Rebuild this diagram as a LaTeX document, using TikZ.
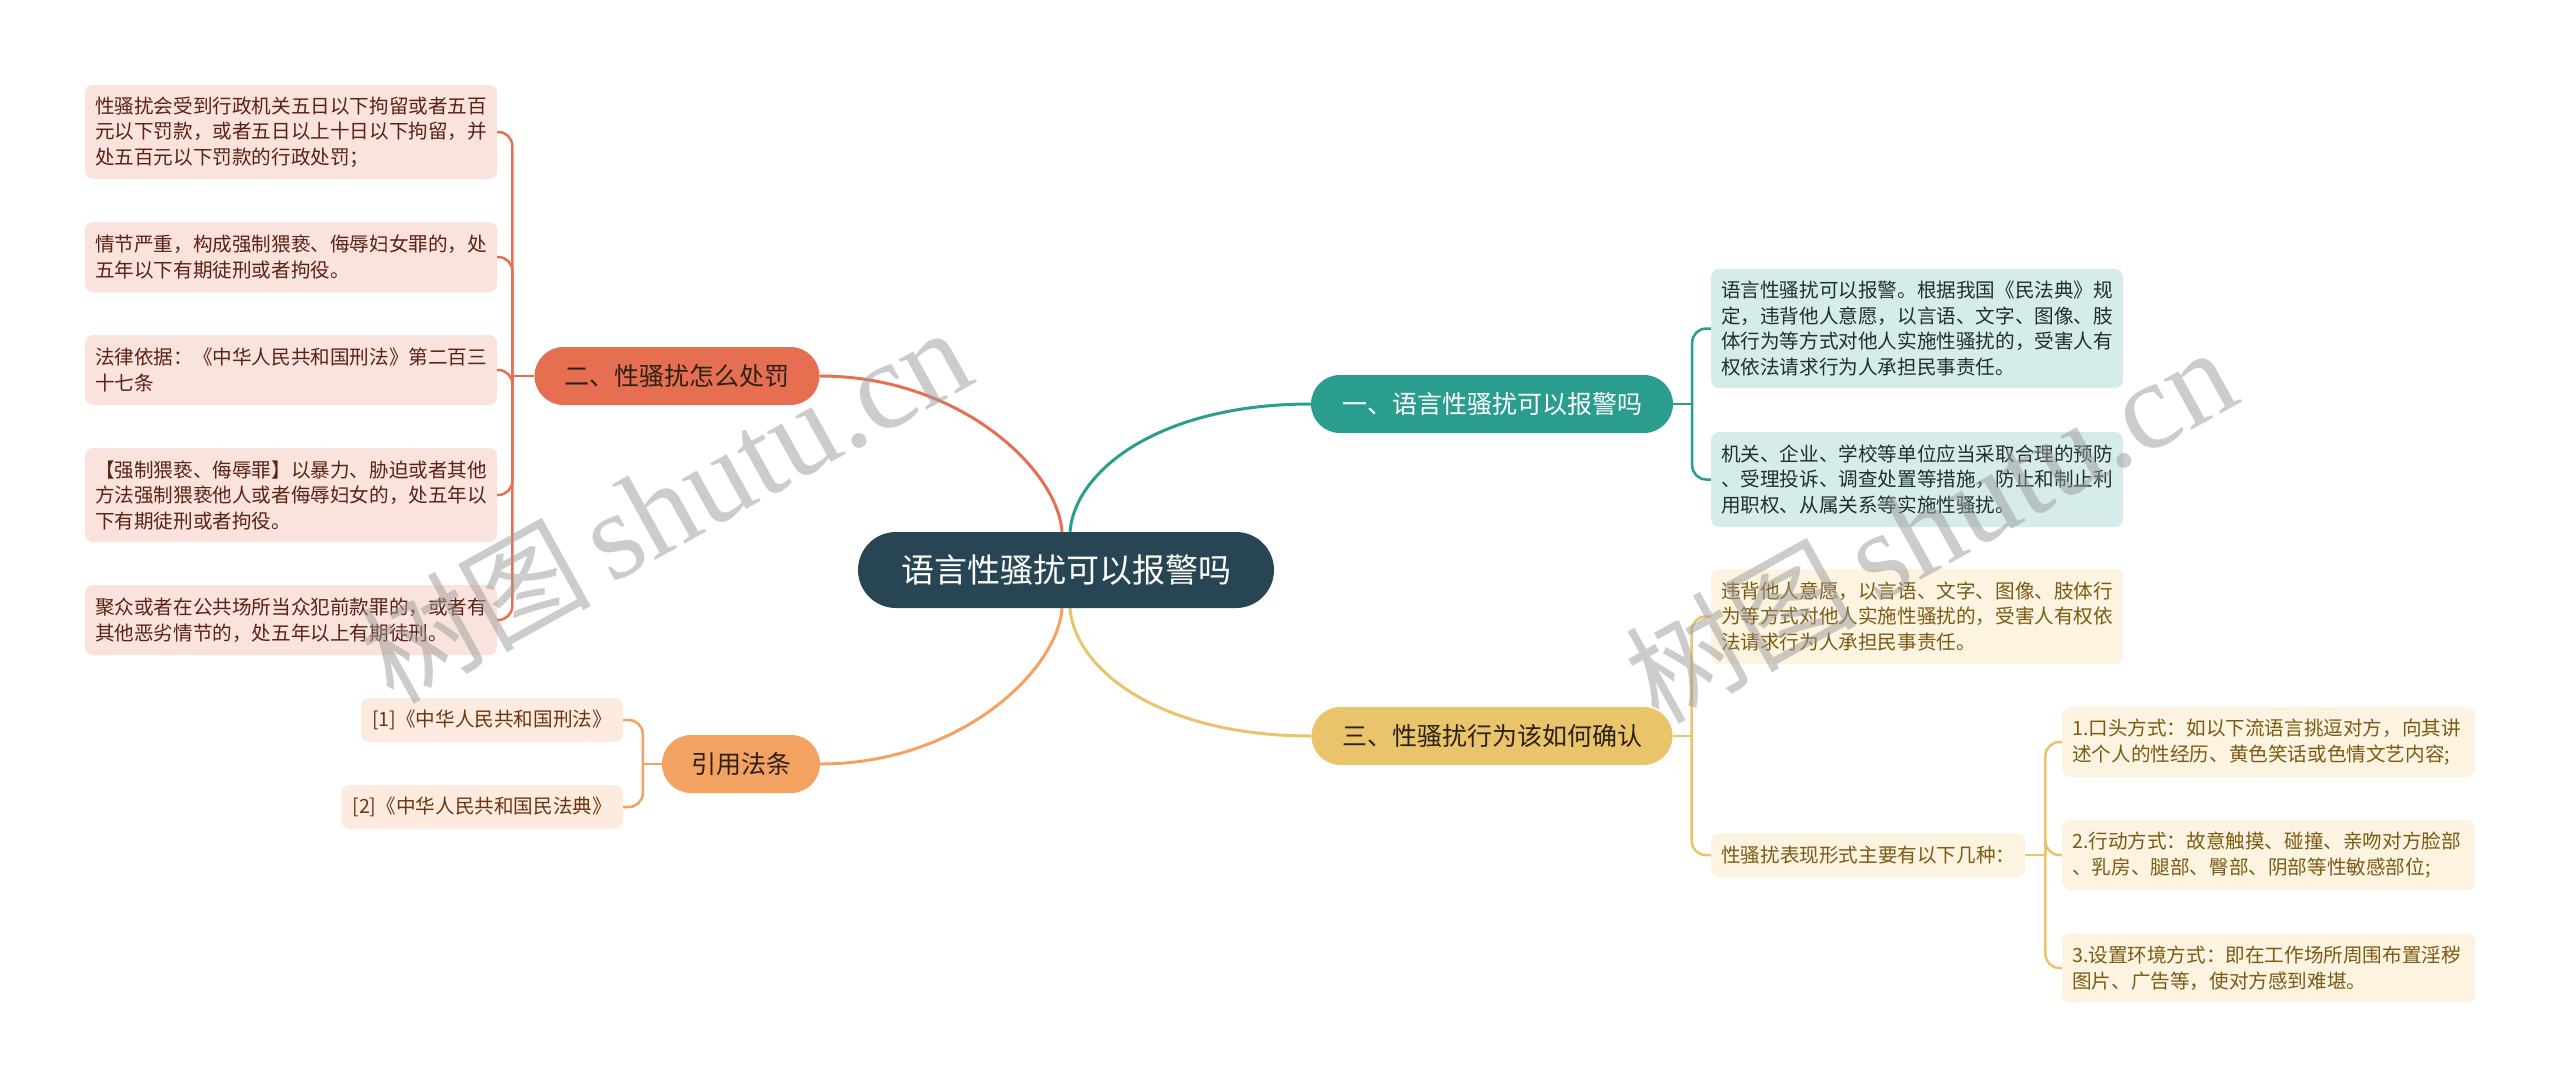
\documentclass[tikz,border=0pt]{standalone}
\usepackage{fontspec}
\setmainfont{Noto Sans CJK SC}
\newfontfamily\wmlatin{Liberation Serif}
\usetikzlibrary{backgrounds}
\definecolor{rootc}{HTML}{274552}
\definecolor{cone}{HTML}{2A9D8F}
\definecolor{ctwo}{HTML}{E76F51}
\definecolor{cthree}{HTML}{E9C46A}
\definecolor{cfour}{HTML}{F4A261}
\definecolor{maintx}{HTML}{2B2118}
\definecolor{lonebg}{HTML}{D6ECEA}
\definecolor{lonetx}{HTML}{1F2F2E}
\definecolor{ltwobg}{HTML}{FBE3DD}
\definecolor{ltwotx}{HTML}{5A2214}
\definecolor{lthreebg}{HTML}{FCF3E0}
\definecolor{lthreetx}{HTML}{7B5A14}
\definecolor{lfourbg}{HTML}{FDEBDF}
\definecolor{lfourtx}{HTML}{6E3510}
\definecolor{wmc}{HTML}{9A9A9A}
\tikzset{
  rootbox/.style={fill=rootc, text=white, rounded corners=38pt, minimum width=416pt, minimum height=76pt, inner sep=0pt, font=\fontsize{33}{40}\selectfont},
  mainbox/.style={rounded corners=29pt, minimum height=58pt, inner sep=0pt, text=maintx, font=\fontsize{25}{30}\selectfont},
  leafbox/.style={rounded corners=8pt, align=left, inner xsep=10pt, inner ysep=0pt, font=\fontsize{19.6}{25.5}\selectfont},
  leafteal/.style={leafbox, fill=lonebg, text=lonetx, text width=392pt},
  leafred/.style={leafbox, fill=ltwobg, text=ltwotx, text width=392pt},
  leafyel/.style={leafbox, fill=lthreebg, text=lthreetx},
  leaforg/.style={leafbox, fill=lfourbg, text=lfourtx, inner xsep=11pt},
  mainline/.style={line width=3pt},
  brline/.style={line width=2.5pt, rounded corners=14pt},
  wmark/.style={text=wmc, text opacity=0.5, inner sep=0pt, rotate=29}
}
\begin{document}
\begin{tikzpicture}[x=1pt,y=-1pt]
\useasboundingbox (0,0) rectangle (2560,1087);
\begin{pgfonlayer}{background}
\fill[white] (0,0) rectangle (2560,1087);
\end{pgfonlayer}

% root and main branches
\node[rootbox] (root) at (1066,570) {语言性骚扰可以报警吗};
\node[mainbox, fill=cone, text=white, minimum width=362pt] (n1) at (1492,404) {一、语言性骚扰可以报警吗};
\node[mainbox, fill=ctwo, minimum width=285pt] (n2) at (677,376) {二、性骚扰怎么处罚};
\node[mainbox, fill=cthree, minimum width=361pt] (n3) at (1492,736) {三、性骚扰行为该如何确认};
\node[mainbox, fill=cfour, minimum width=158pt] (n4) at (741,764) {引用法条};

% branch two leaves
\node[leafred, minimum height=94pt] (la) at (291,132) {性骚扰会受到行政机关五日以下拘留或者五百\\元以下罚款，或者五日以上十日以下拘留，并\\处五百元以下罚款的行政处罚；};
\node[leafred, minimum height=70pt] (lb) at (291,257) {情节严重，构成强制猥亵、侮辱妇女罪的，处\\五年以下有期徒刑或者拘役。};
\node[leafred, minimum height=70pt] (lc) at (291,370) {法律依据：《中华人民共和国刑法》第二百三\\十七条};
\node[leafred, minimum height=94pt] (ld) at (291,495) {【强制猥亵、侮辱罪】以暴力、胁迫或者其他\\方法强制猥亵他人或者侮辱妇女的，处五年以\\下有期徒刑或者拘役。};
\node[leafred, minimum height=70pt] (le) at (291,620) {聚众或者在公共场所当众犯前款罪的，或者有\\其他恶劣情节的，处五年以上有期徒刑。};

% branch one leaves
\node[leafteal, minimum height=119pt] (ta) at (1917,328.5) {语言性骚扰可以报警。根据我国《民法典》规\\定，违背他人意愿，以言语、文字、图像、肢\\体行为等方式对他人实施性骚扰的，受害人有\\权依法请求行为人承担民事责任。};
\node[leafteal, minimum height=95pt] (tb) at (1917,479.5) {机关、企业、学校等单位应当采取合理的预防\\、受理投诉、调查处置等措施，防止和制止利\\用职权、从属关系等实施性骚扰。};

% branch three leaves
\node[leafyel, text width=392pt, minimum height=95pt] (ya) at (1917,616.5) {违背他人意愿，以言语、文字、图像、肢体行\\为等方式对他人实施性骚扰的，受害人有权依\\法请求行为人承担民事责任。};
\node[leafyel, minimum height=44pt, anchor=west] (yb) at (1711,855) {性骚扰表现形式主要有以下几种：};
\node[leafyel, text width=393pt, minimum height=70pt, anchor=west] (yc) at (2062,742) {1.口头方式：如以下流语言挑逗对方，向其讲\\述个人的性经历、黄色笑话或色情文艺内容;};
\node[leafyel, text width=393pt, minimum height=70pt, anchor=west] (yd) at (2062,855) {2.行动方式：故意触摸、碰撞、亲吻对方脸部\\、乳房、腿部、臀部、阴部等性敏感部位;};
\node[leafyel, text width=393pt, minimum height=70pt, anchor=west] (ye) at (2062,968) {3.设置环境方式：即在工作场所周围布置淫秽\\图片、广告等，使对方感到难堪。};

% references
\node[leaforg, minimum height=44pt, anchor=east] (ra) at (623,720) {[1]《中华人民共和国刑法》};
\node[leaforg, minimum height=44pt, anchor=east] (rb) at (623,807) {[2]《中华人民共和国民法典》};

% main curves
\begin{pgfonlayer}{background}
\draw[mainline, cone] ([xshift=4pt]root.north) .. controls (1075,470) and (1160,404) .. (n1.west);
\draw[mainline, ctwo] ([xshift=-4pt]root.north) .. controls (1058,470) and (960,376) .. (n2.east);
\draw[mainline, cthree] ([xshift=4pt]root.south) .. controls (1075,670) and (1160,736) .. (n3.west);
\draw[mainline, cfour] ([xshift=-4pt]root.south) .. controls (1058,670) and (960,764) .. (n4.east);
\end{pgfonlayer}

% brackets
\coordinate (tone) at ([xshift=19pt]n1.east);
\draw[brline, cone] (n1.east) -- (tone);
\draw[brline, cone] (tone) |- (ta.west);
\draw[brline, cone] (tone) |- (tb.west);

\coordinate (ttwo) at ([xshift=-22pt]n2.west);
\draw[brline, ctwo] (n2.west) -- (ttwo);
\foreach \c in {la,lb,lc,ld,le} {\draw[brline, ctwo] (ttwo) |- (\c.east);}

\coordinate (tthree) at ([xshift=19pt]n3.east);
\draw[brline, cthree] (n3.east) -- (tthree);
\draw[brline, cthree] (tthree) |- (ya.west);
\draw[brline, cthree] (tthree) |- (yb.west);

\coordinate (tsub) at ([xshift=20pt]yb.east);
\draw[brline, cthree] (yb.east) -- (tsub);
\foreach \c in {yc,yd,ye} {\draw[brline, cthree] (tsub) |- (\c.west);}

\coordinate (tfour) at ([xshift=-19pt]n4.west);
\draw[brline, cfour] (n4.west) -- (tfour);
\draw[brline, cfour] (tfour) |- (ra.east);
\draw[brline, cfour] (tfour) |- (rb.east);

% watermarks
\node[wmark] (wmone) at (665,505) {\fontsize{115}{120}\selectfont 树图\,{\wmlatin\fontsize{125}{130}\selectfont shutu.cn}};
\node[wmark] (wmtwo) at (1930,525) {\fontsize{115}{120}\selectfont 树图\,{\wmlatin\fontsize{125}{130}\selectfont shutu.cn}};
\end{tikzpicture}
\end{document}
